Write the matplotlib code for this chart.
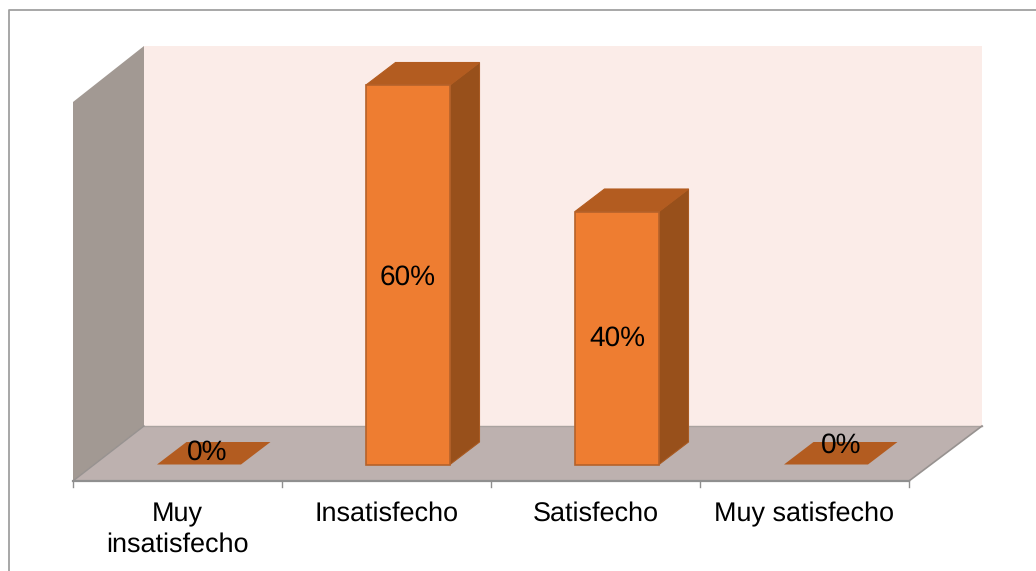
import matplotlib
matplotlib.use('Agg')
import matplotlib.pyplot as plt
from matplotlib.patches import Polygon

plt.rcParams['font.family'] = ['Liberation Sans', 'DejaVu Sans']
plt.rcParams['text.hinting'] = 'no_hinting'
plt.rcParams['text.hinting_factor'] = 1

categories = ['Muy\ninsatisfecho', 'Insatisfecho', 'Satisfecho', 'Muy satisfecho']
values = [0, 60, 40, 0]
value_labels = ['0%', '60%', '40%', '0%']

W, H = 1036, 571

# scale of the picture: pixels per category and per percent
px_cat = 209.0
px_pct = 6.325
x0_px = 73.0
y0_px = 464.5

fig = plt.figure(figsize=(W / 100, H / 100), dpi=100)
ax = fig.add_axes([0, 0, 1, 1])
ax.set_xlim(-x0_px / px_cat, (W - x0_px) / px_cat)
ax.set_ylim((y0_px - H) / px_pct, y0_px / px_pct)
ax.axis('off')


def X(px):
    return (px - x0_px) / px_cat


def Y(py):
    return (y0_px - py) / px_pct


def poly(points, face, edge='none', lw=0, z=1):
    pts = [(X(a), Y(b)) for a, b in points]
    ax.add_patch(Polygon(pts, closed=True, facecolor=face, edgecolor=edge, linewidth=lw, zorder=z))


# outer frame, only top and left are inside the picture
ax.plot([X(9), X(9), X(1036)], [Y(571), Y(10), Y(10)],
        color='#a0a0a0', lw=1.3, zorder=1)

# walls and floor
poly([(144, 46), (982, 46), (982, 426), (144, 426)], '#fbece8', z=1)
poly([(73, 102), (144, 46), (144, 426), (73, 481)], '#a29993', z=2)
poly([(73, 481), (909, 481), (982, 426), (144, 426)], '#bdb1af', z=2)
ax.plot([X(144), X(982)], [Y(426), Y(426)], color='#aaa3a0', lw=1, zorder=3)
ax.plot([X(73), X(144)], [Y(481), Y(426)], color='#979290', lw=1, zorder=3)
ax.plot([X(909), X(982)], [Y(481), Y(426)], color='#979290', lw=1.2, zorder=3)
ax.plot([X(73), X(909)], [Y(481), Y(481)], color='#8f8f8f', lw=1.6, zorder=3)

# ticks on the category axis
for i in range(len(categories) + 1):
    ax.plot([i, i], [Y(481), Y(487)], color='#8f8f8f', lw=1, zorder=3)

# bars
bar_w = 84 / px_cat
dx = 29.5 / px_cat
dy = 22.5 / px_pct
shift = 21.5 / px_cat
for i, v in enumerate(values):
    c = i + 0.5 + shift
    l, r = c - bar_w / 2, c + bar_w / 2
    top = [(l, v), (r, v), (r + dx, v + dy), (l + dx, v + dy)]
    if v > 0:
        ax.add_patch(Polygon([(r, 0), (r + dx, dy), (r + dx, v + dy), (r, v)],
                             facecolor='#98501b', edgecolor='#a85a22', lw=0.8, zorder=5))
        ax.add_patch(Polygon(top, facecolor='#b35c20', edgecolor='#b35c20', lw=0.8, zorder=5))
        ax.add_patch(Polygon([(l, 0), (r, 0), (r, v), (l, v)],
                             facecolor='#ee7d31', edgecolor='#b5622a', lw=1.2, zorder=6))
    else:
        ax.add_patch(Polygon(top, facecolor='#b35c20', edgecolor='none', zorder=5))

# value labels
label_px = [(207, 452.5), (408, 277.5), (617, 338.5), (841, 445.5)]
for (a, b), s in zip(label_px, value_labels):
    ax.text(X(a), Y(b), s, ha='center', va='center', fontsize=20, color='black', zorder=8)

# category labels
for i, s in enumerate(categories):
    ax.text(i + 0.5, Y(501.5), s, ha='center', va='top', fontsize=19.7, color='black',
            linespacing=1.3, zorder=8)

fig.savefig('out.png', dpi=100, facecolor='white')
